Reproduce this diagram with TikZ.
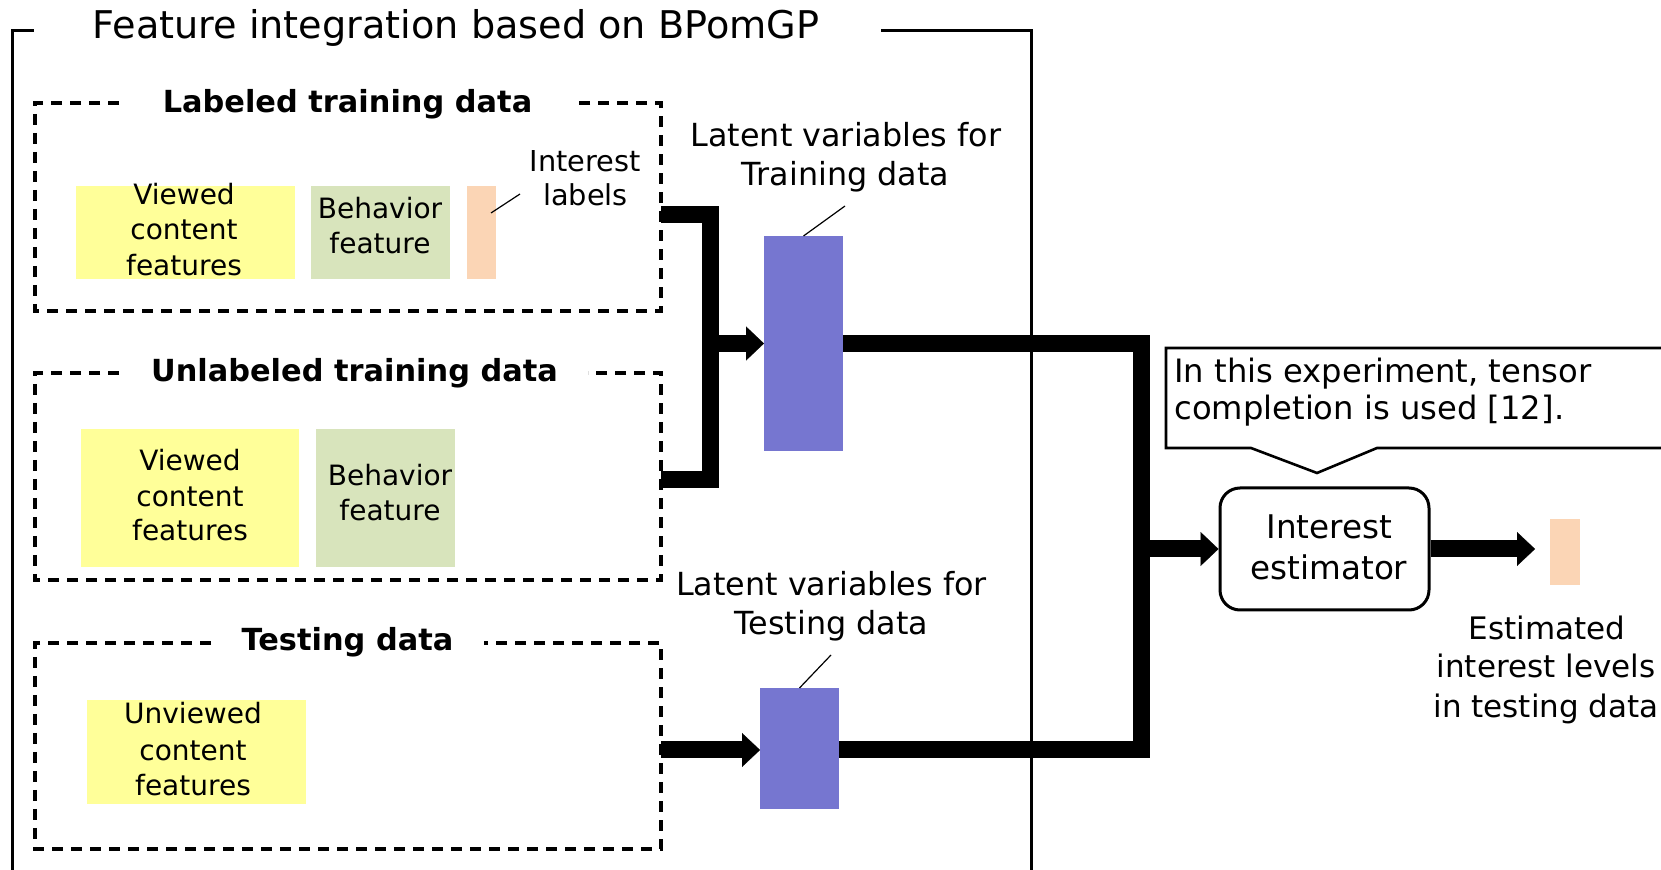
\documentclass[tikz,border=0pt]{standalone}
\usepackage{fontspec}
\setmainfont{DejaVu Sans}
\usetikzlibrary{arrows.meta}
\definecolor{yel}{RGB}{255,255,153}
\definecolor{grn}{RGB}{216,228,188}
\definecolor{pch}{RGB}{251,213,181}
\definecolor{pur}{RGB}{118,118,208}
\begin{document}
\begin{tikzpicture}[x=0.5pt,y=-0.5pt,
  txt/.style={inner sep=0pt,anchor=base},
  fbox/.style={draw=none,inner sep=0pt,outer sep=0pt},
  outerframe/.style={line width=1.5pt},
  dashframe/.style={line width=1.65pt,dash pattern=on 5.5pt off 4pt},
  conn/.style={line width=8.5pt,line join=miter},
  tip/.style={-{Triangle[width=17pt,length=9pt,line width=0.1pt]}},
  leader/.style={line width=0.6pt},
  fTitle/.style={font=\fontsize{19.1}{23}\selectfont},
  fSec/.style={font=\fontsize{15.2}{18}\selectfont\bfseries},
  fBox/.style={font=\fontsize{14}{17}\selectfont},
  fLat/.style={font=\fontsize{15.9}{19}\selectfont},
]
\useasboundingbox (0,0) rectangle (1661,870);
\clip (0,0) rectangle (1661,870);

% outer frame
\draw[outerframe] (33.5,30.7) -- (12,30.7) -- (12,885);
\draw[outerframe] (881,30.7) -- (1031,30.7) -- (1031,885);
\node[txt,fTitle] (title) at (456,39) {Feature integration based on BPomGP};

% dashed group frames
\draw[dashframe] (119,103) -- (35,103) -- (35,311) -- (661,311) -- (661,103) -- (575,103);
\node[txt,fSec] (labT) at (347.5,113) {Labeled training data};
\draw[dashframe] (119,373) -- (35,373) -- (35,580) -- (661,580) -- (661,373) -- (588,373);
\node[txt,fSec] (unlT) at (354.5,382) {Unlabeled training data};
\draw[dashframe] (211,643) -- (35,643) -- (35,849) -- (661,849) -- (661,643) -- (484,643);
\node[txt,fSec] (tstT) at (347.5,651) {Testing data};

% labeled training data contents
\node[fbox,fill=yel,minimum width=109.5pt,minimum height=46.5pt] (lv) at (185.5,232.5) {};
\node[txt,fBox] at (184,204.5) {Viewed};
\node[txt,fBox] at (184,240) {content};
\node[txt,fBox] at (184,275.5) {features};
\node[fbox,fill=grn,minimum width=69.5pt,minimum height=46.5pt] (lb) at (380.5,232.5) {};
\node[txt,fBox] at (380,218.3) {Behavior};
\node[txt,fBox] at (380,254) {feature};
\node[fbox,fill=pch,minimum width=14.5pt,minimum height=46.5pt] (pk1) at (481.5,232.5) {};
\node[txt,font=\fontsize{14.4}{17}\selectfont] at (585,171.7) {Interest};
\node[txt,font=\fontsize{14.4}{17}\selectfont] at (585.5,206) {labels};
\coordinate (pk1lead) at (520,194);
\draw[leader] (491,213) -- (pk1lead);

% unlabeled training data contents
\node[fbox,fill=yel,minimum width=109pt,minimum height=69pt] (uv) at (190,498) {};
\node[txt,fBox] at (190,471) {Viewed};
\node[txt,fBox] at (190,506.5) {content};
\node[txt,fBox] at (190,541) {features};
\node[fbox,fill=grn,minimum width=69.5pt,minimum height=69pt] (ub) at (385.5,498) {};
\node[txt,fBox] at (390,485.6) {Behavior};
\node[txt,fBox] at (390,520.4) {feature};

% testing data contents
\node[fbox,fill=yel,minimum width=109.5pt,minimum height=52pt] (tv) at (196.5,752) {};
\node[txt,fBox] at (193,724) {Unviewed};
\node[txt,fBox] at (193,761) {content};
\node[txt,fBox] at (193,796) {features};

% latent variable blocks
\node[fbox,fill=pur,minimum width=39.5pt,minimum height=107.5pt] (p1) at (803.5,343.5) {};
\node[fbox,fill=pur,minimum width=39.5pt,minimum height=60.5pt] (p2) at (799.5,748.5) {};
\node[txt,fLat] at (846,147) {Latent variables for};
\node[txt,fLat] at (845.5,186) {Training data};
\node[txt,fLat] at (831.5,596) {Latent variables for};
\node[txt,fLat] at (831.5,635) {Testing data};
\coordinate (p1lead) at (845,206);
\coordinate (p2lead) at (831,655);
\draw[leader] (p1.north) -- (p1lead);
\draw[leader] (p2.north) -- (p2lead);

% connectors
\coordinate (labout) at (661,215);
\coordinate (unlout) at (661,479.5);
\coordinate (brk) at (710,343.5);
\coordinate (tstout) at (661,750);
\coordinate (merge) at (1141.5,549);
\draw[conn] (labout) -| (brk) |- (unlout);
\draw[conn,tip] (brk) -- (p1.west);
\draw[conn,tip] (tstout) -- (tstout -| p2.west);
\draw[conn] (p1.east) -| (merge) |- ([yshift=-0.75pt]p2.east);

% estimator
\node[draw,line width=1.5pt,rounded corners=10pt,minimum width=104.5pt,minimum height=61pt,inner sep=0pt] (est) at (1324.5,549) {};
\node[txt,font=\fontsize{16.3}{19}\selectfont] at (1329.5,539) {Interest};
\node[txt,font=\fontsize{16.3}{19}\selectfont] at (1329,580) {estimator};
\draw[conn,tip] (merge) -- (est.west);

\node[fbox,fill=pch,minimum width=15pt,minimum height=33pt] (pk2) at (1565,552) {};
\draw[conn,tip,shorten >=7.5pt] (est.east) -- (est.east -| pk2.west);
\node[txt,font=\fontsize{15.5}{19}\selectfont] at (1547,640) {Estimated};
\node[txt,font=\fontsize{15.5}{19}\selectfont] at (1546,678) {interest levels};
\node[txt,font=\fontsize{15.5}{19}\selectfont] at (1546,718) {in testing data};

% callout
\draw[line width=1.3pt,fill=white,line join=miter] (1166,348) -- (1720,348) -- (1720,448) -- (1377,448) -- (1317,473) -- (1251,448) -- (1166,448) -- cycle;
\node[txt,anchor=base west,font=\fontsize{16.1}{19}\selectfont] at (1174,383) {In this experiment, tensor};
\node[txt,anchor=base west,font=\fontsize{16.1}{19}\selectfont] at (1174,420) {completion is used [12].};
\end{tikzpicture}
\end{document}
